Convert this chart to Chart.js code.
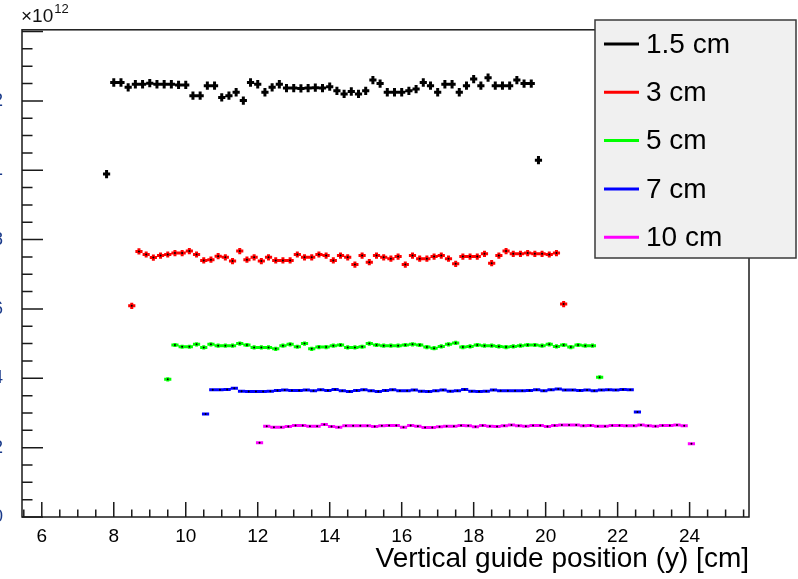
<!DOCTYPE html>
<html>
<head>
<meta charset="utf-8">
<script src="https://cdn.jsdelivr.net/npm/chart.js@4/dist/chart.umd.min.js"></script>
<style>
  html, body { margin: 0; padding: 0; background: #fff; overflow: hidden; }
  #wrap { position: relative; width: 798px; height: 579px; overflow: hidden; }
  #flux { position: absolute; left: -40px; top: 0; }
</style>
</head>
<body>
<div id="wrap"><canvas id="flux" width="838" height="579"></canvas></div>
<script>
// ---- data (values in units of 1e12) ----
const seriesNames = ['1.5 cm', '3 cm', '5 cm', '7 cm', '10 cm'];
const binStep = 0.2;
const xStarts = [7.8, 8.5, 9.5, 10.55, 12.05];
const yErrors = [0.012, 0.009, 0.006, 0.003, 0.003];

const flux15 = [0.989,
  1.253, 1.253, 1.239, 1.248, 1.248, 1.251, 1.248, 1.248, 1.248, 1.246,
  1.246, 1.215, 1.215, 1.244, 1.244, 1.210, 1.215, 1.225, 1.201, 1.253,
  1.248, 1.225, 1.239, 1.248, 1.237, 1.237, 1.236, 1.237, 1.238, 1.237,
  1.241, 1.229, 1.220, 1.227, 1.220, 1.229, 1.260, 1.250, 1.225, 1.225,
  1.225, 1.229, 1.234, 1.253, 1.244, 1.225, 1.248, 1.248, 1.225, 1.244,
  1.263, 1.244, 1.267, 1.244, 1.244, 1.244, 1.260, 1.250, 1.250,
  1.029];
const flux3 = [0.609,
  0.766, 0.757, 0.748, 0.754, 0.757, 0.761, 0.761, 0.767, 0.757, 0.740,
  0.742, 0.752, 0.749, 0.738, 0.767, 0.742, 0.749, 0.738, 0.749, 0.740,
  0.740, 0.740, 0.757, 0.749, 0.749, 0.757, 0.754, 0.740, 0.754, 0.749,
  0.728, 0.754, 0.735, 0.754, 0.749, 0.745, 0.751, 0.728, 0.754, 0.745,
  0.745, 0.751, 0.754, 0.745, 0.730, 0.751, 0.751, 0.751, 0.759, 0.732,
  0.754, 0.767, 0.759, 0.759, 0.761, 0.759, 0.759, 0.757, 0.761,
  0.614];
const flux5 = [0.397,
  0.496, 0.491, 0.491, 0.498, 0.489, 0.498, 0.494, 0.494, 0.494, 0.500,
  0.496, 0.489, 0.489, 0.489, 0.485, 0.494, 0.498, 0.491, 0.500, 0.485,
  0.490, 0.490, 0.494, 0.496, 0.489, 0.489, 0.491, 0.500, 0.496, 0.494,
  0.494, 0.494, 0.496, 0.498, 0.496, 0.490, 0.487, 0.492, 0.498, 0.502,
  0.490, 0.492, 0.496, 0.494, 0.494, 0.492, 0.490, 0.492, 0.494, 0.496,
  0.496, 0.494, 0.498, 0.492, 0.496, 0.490, 0.496, 0.494, 0.494,
  0.403];
const flux7 = [0.297,
  0.367, 0.367, 0.368, 0.371, 0.363, 0.362, 0.362, 0.362, 0.363, 0.365,
  0.366, 0.365, 0.365, 0.366, 0.364, 0.367, 0.365, 0.368, 0.364, 0.362,
  0.365, 0.367, 0.364, 0.362, 0.365, 0.367, 0.364, 0.364, 0.366, 0.363,
  0.362, 0.364, 0.366, 0.363, 0.364, 0.368, 0.363, 0.362, 0.363, 0.366,
  0.364, 0.364, 0.364, 0.364, 0.365, 0.367, 0.364, 0.367, 0.369, 0.366,
  0.366, 0.365, 0.366, 0.364, 0.366, 0.367, 0.366, 0.368, 0.367,
  0.303];
const flux10 = [0.214,
  0.262, 0.259, 0.259, 0.261, 0.264, 0.264, 0.262, 0.262, 0.267, 0.261,
  0.259, 0.263, 0.263, 0.263, 0.263, 0.261, 0.263, 0.264, 0.264, 0.259,
  0.264, 0.262, 0.258, 0.258, 0.260, 0.262, 0.262, 0.264, 0.263, 0.260,
  0.264, 0.262, 0.261, 0.263, 0.265, 0.263, 0.262, 0.264, 0.264, 0.261,
  0.264, 0.265, 0.265, 0.265, 0.263, 0.264, 0.262, 0.262, 0.264, 0.264,
  0.263, 0.263, 0.265, 0.263, 0.262, 0.264, 0.264, 0.265, 0.263,
  0.211];

const xTickValues = [6, 8, 10, 12, 14, 16, 18, 20, 22, 24];
const yTickValues = [0, 0.2, 0.4, 0.6, 0.8, 1.0, 1.2];
const yTickLabels = ['0', '0.2', '0.4', '0.6', '0.8', '1', '1.2'];

const seriesValues = [flux15, flux3, flux5, flux7, flux10];
const seriesColors = ['#000000', '#ff0000', '#00ff00', '#0000ff', '#ff00ff'];

const X_MIN = 5.45, X_MAX = 25.65, Y_MIN = 0, Y_MAX = 1.405;
const FONT = "'Liberation Sans', Arial, sans-serif";

function toPoints(values, start) {
  return values.map((v, i) => ({ x: start + i * binStep, y: v }));
}

const datasets = seriesValues.map((vals, k) => ({
  label: seriesNames[k],
  data: toPoints(vals, xStarts[k]),
  errY: yErrors[k],
  lineColor: seriesColors[k],
  showLine: false,
  pointRadius: 1,
  pointBorderWidth: 0,
  pointBackgroundColor: '#000',
  pointHoverRadius: 1
}));

// ROOT style: error crosses, frame, inward ticks, exponent, legend box
const rootStyle = {
  id: 'rootStyle',
  beforeDatasetsDraw(chart) {
    const ctx = chart.ctx;
    const xs = chart.scales.x, ys = chart.scales.y;
    ctx.save();
    ctx.lineWidth = 3;
    ctx.lineCap = 'butt';
    chart.data.datasets.forEach(ds => {
      ctx.strokeStyle = ds.lineColor;
      ctx.beginPath();
      ds.data.forEach(p => {
        const x0 = xs.getPixelForValue(p.x - binStep / 2);
        const x1 = xs.getPixelForValue(p.x + binStep / 2);
        const py = ys.getPixelForValue(p.y);
        const px = xs.getPixelForValue(p.x);
        const y0 = ys.getPixelForValue(p.y - ds.errY);
        const y1 = ys.getPixelForValue(p.y + ds.errY);
        ctx.moveTo(x0, py); ctx.lineTo(x1, py);
        ctx.moveTo(px, y0); ctx.lineTo(px, y1);
      });
      ctx.stroke();
    });
    ctx.restore();
  },
  afterDraw(chart) {
    const ctx = chart.ctx;
    const { left, right, top, bottom } = chart.chartArea;
    const xs = chart.scales.x, ys = chart.scales.y;
    ctx.save();

    ctx.strokeStyle = '#1a1a1a';
    ctx.lineWidth = 1.5;
    ctx.strokeRect(left, top, right - left, bottom - top);

    ctx.beginPath();
    for (let i = 0; 5.5 + i * 0.5 <= X_MAX; i++) {
      const px = xs.getPixelForValue(5.5 + i * 0.5);
      const len = (i - 1) % 4 === 0 ? 15 : 7.5;
      ctx.moveTo(px, bottom); ctx.lineTo(px, bottom - len);
    }
    for (let i = 0; i * 0.05 <= Y_MAX; i++) {
      const py = ys.getPixelForValue(i * 0.05);
      const len = i % 4 === 0 ? 21 : 10.5;
      ctx.moveTo(left, py); ctx.lineTo(left + len, py);
    }
    ctx.stroke();

    // exponent
    ctx.fillStyle = '#111';
    ctx.textBaseline = 'alphabetic';
    ctx.textAlign = 'left';
    ctx.font = '19px ' + FONT;
    ctx.fillText('\u00d710', left - 1, 22);
    const w = ctx.measureText('\u00d710').width;
    ctx.font = '13px ' + FONT;
    ctx.fillText('12', left + w, 13);

    // legend
    const lx = left + 573, ly = 20, lw = 201, lh = 238;
    ctx.fillStyle = '#f0f0f0';
    ctx.fillRect(lx, ly, lw, lh);
    ctx.strokeStyle = '#3a3a3a';
    ctx.lineWidth = 1.5;
    ctx.strokeRect(lx, ly, lw, lh);
    ctx.font = '28px ' + FONT;
    ctx.textBaseline = 'middle';
    chart.data.datasets.forEach((ds, k) => {
      const cy = ly + 24 + k * 48.3;
      ctx.strokeStyle = ds.lineColor;
      ctx.lineWidth = 3;
      ctx.beginPath();
      ctx.moveTo(lx + 9, cy); ctx.lineTo(lx + 44, cy);
      ctx.stroke();
      ctx.fillStyle = '#000';
      ctx.fillText(ds.label, lx + 51, cy + 1);
    });
    ctx.restore();
  }
};

const ctx = document.getElementById('flux').getContext('2d');
const chart = new Chart(ctx, {
  type: 'scatter',
  data: { datasets: datasets },
  options: {
    responsive: false,
    devicePixelRatio: 1,
    animation: false,
    layout: { padding: { left: 0, top: 25, right: 49, bottom: 0 } },
    plugins: { legend: { display: false }, tooltip: { enabled: false } },
    scales: {
      x: {
        type: 'linear',
        min: X_MIN,
        max: X_MAX,
        grid: { display: false, drawTicks: false },
        border: { display: false },
        afterBuildTicks: s => { s.ticks = xTickValues.map(v => ({ value: v })); },
        afterFit: s => { s.height = 62; },
        ticks: {
          padding: 8,
          color: '#000',
          font: { family: FONT, size: 19 },
          maxRotation: 0,
          autoSkip: false
        },
        title: {
          display: true,
          text: 'Vertical guide position (y) [cm]',
          align: 'end',
          color: '#000',
          font: { family: FONT, size: 28 },
          padding: { top: 0, bottom: 3 }
        }
      },
      y: {
        type: 'linear',
        min: Y_MIN,
        max: Y_MAX,
        grid: { display: false, drawTicks: false },
        border: { display: false },
        afterBuildTicks: s => { s.ticks = yTickValues.map(v => ({ value: v })); },
        afterFit: s => { s.width = 62; },
        ticks: {
          padding: 19,
          color: '#1a3a8a',
          font: { family: FONT, size: 18 },
          autoSkip: false,
          callback: (v, i) => yTickLabels[i]
        }
      }
    }
  },
  plugins: [rootStyle]
});
</script>
</body>
</html>
